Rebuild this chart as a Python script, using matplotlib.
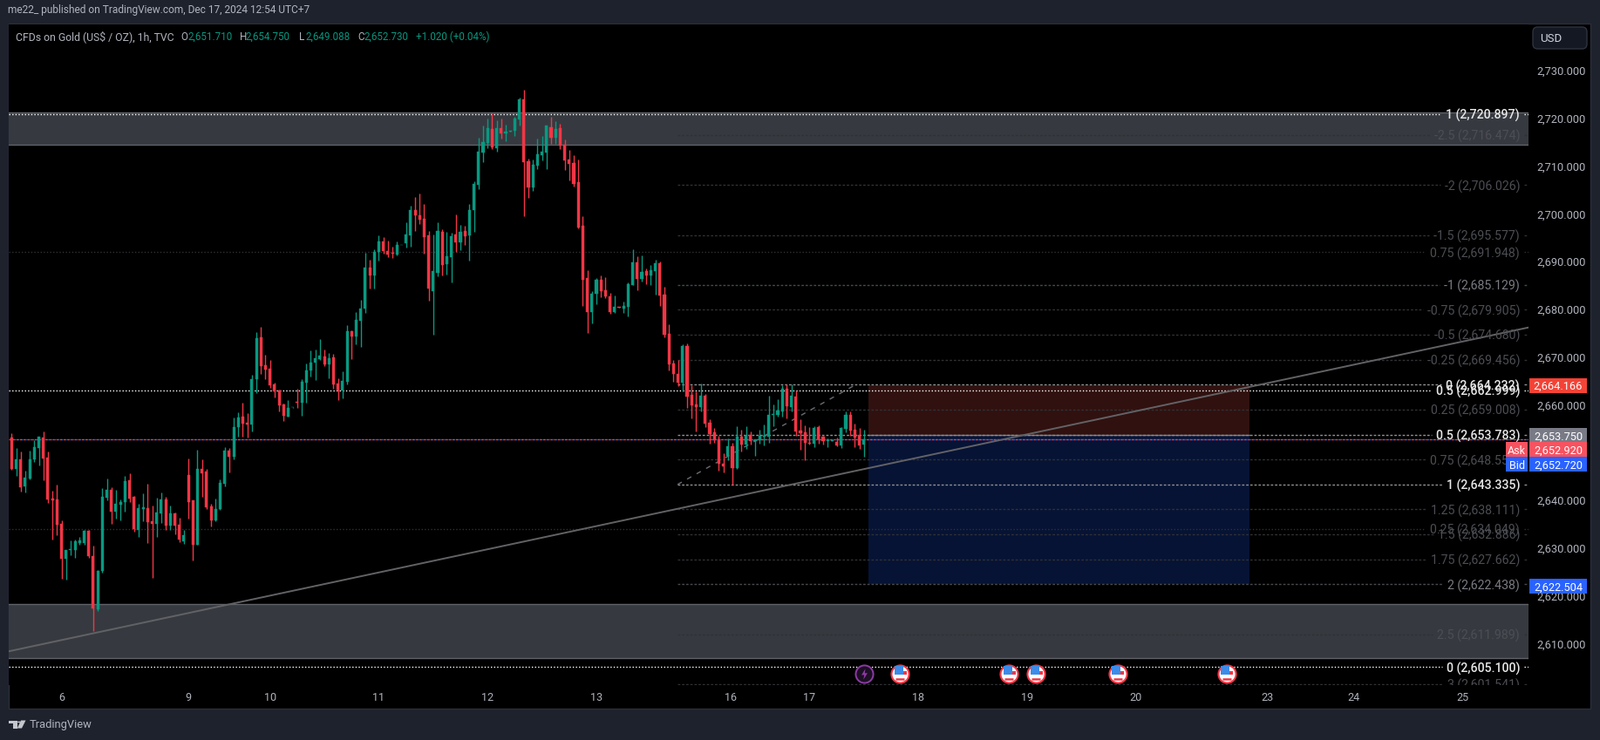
import matplotlib
matplotlib.use('Agg')
import matplotlib.pyplot as plt
from matplotlib.patches import Rectangle, FancyBboxPatch, Polygon, Circle
from matplotlib.path import Path

# one hourly candle per entry
opens = [
    2653.2, 2646.6, 2648.6, 2642.9, 2644.6, 2648.6, 2651.0, 2653.2, 2649.0, 2640.4,
    2640.2, 2635.1, 2627.8, 2629.6, 2629.6, 2631.1, 2631.1, 2633.6, 2628.3, 2617.2,
    2625.2, 2640.6, 2642.2, 2637.6, 2639.1, 2639.7, 2644.2, 2640.8, 2633.8, 2638.2,
    2638.4, 2635.6, 2635.1, 2637.3, 2640.2, 2634.7, 2637.3, 2634.9, 2631.4, 2645.3,
    2640.0, 2630.7, 2646.6, 2646.0, 2638.7, 2635.8, 2638.2, 2643.5, 2650.4, 2649.1,
    2655.3, 2657.5, 2656.3, 2655.9, 2665.4, 2674.1, 2668.3, 2667.6, 2664.3, 2663.0,
    2660.1, 2657.5, 2659.45, 2660.6, 2660.5, 2664.7, 2667.2, 2668.9, 2669.6, 2670.1,
    2668.5, 2670.0, 2664.5, 2663.0, 2664.8, 2675.4, 2674.3, 2677.6, 2680.2, 2688.7,
    2687.1, 2692.0, 2694.2, 2692.2, 2691.85, 2691.5, 2693.4, 2693.9, 2695.5, 2700.8,
    2699.7, 2699.0, 2695.5, 2683.8, 2687.7, 2696.2, 2689.5, 2690.9, 2695.7, 2694.0,
    2696.4, 2695.5, 2700.8, 2706.1, 2712.8, 2714.8, 2717.8, 2713.7, 2717.9, 2716.8,
    2717.25, 2717.4, 2719.8, 2724.0, 2711.0, 2705.5, 2710.1, 2712.3, 2712.8, 2718.1,
    2715.9, 2717.9, 2714.5, 2711.4, 2710.6, 2706.6, 2697.5, 2686.6, 2679.4, 2683.3,
    2686.2, 2684.0, 2682.7, 2679.4, 2680.5, 2680.2, 2680.5, 2685.1, 2689.8, 2686.4,
    2688.0, 2687.1, 2688.0, 2689.7, 2683.1, 2674.9, 2668.7, 2666.5, 2664.7, 2672.3,
    2662.1, 2660.1, 2659.5, 2661.9, 2656.3, 2654.2, 2652.8, 2647.7, 2649.3, 2651.3,
    2646.8, 2653.3, 2651.7, 2653.7, 2652.4, 2652.6, 2653.4, 2653.3, 2657.9, 2657.9,
    2658.6, 2663.4, 2659.5, 2661.7, 2654.6, 2654.2, 2652.1, 2651.9, 2655.3, 2653.3,
    2652.5, 2652.5, 2652.2, 2651.5, 2655.0, 2657.9, 2654.8, 2653.7, 2651.71,
]
closes = [
    2646.6, 2648.6, 2642.8, 2644.8, 2648.6, 2651.2, 2653.3, 2648.8, 2640.2, 2640.0,
    2634.9, 2627.8, 2629.6, 2629.8, 2631.4, 2631.6, 2633.6, 2628.3, 2617.4, 2625.2,
    2640.8, 2642.2, 2637.6, 2639.3, 2639.7, 2644.0, 2640.4, 2634.0, 2638.4, 2638.6,
    2635.5, 2635.1, 2637.5, 2640.2, 2634.7, 2637.3, 2634.7, 2631.8, 2632.7, 2639.7,
    2630.7, 2646.6, 2645.7, 2638.6, 2635.8, 2638.2, 2643.7, 2650.4, 2649.1, 2655.3,
    2657.4, 2656.1, 2655.9, 2665.4, 2674.0, 2668.1, 2667.4, 2664.1, 2662.8, 2659.9,
    2657.7, 2659.4, 2659.55, 2660.5, 2664.8, 2667.2, 2668.9, 2669.8, 2670.3, 2668.5,
    2669.8, 2664.3, 2663.0, 2665.0, 2675.4, 2674.3, 2677.8, 2680.2, 2688.7, 2687.1,
    2692.0, 2694.2, 2692.2, 2691.5, 2691.7, 2693.5, 2693.5, 2695.7, 2700.8, 2699.7,
    2698.8, 2695.1, 2684.4, 2688.0, 2696.4, 2689.3, 2691.1, 2695.3, 2694.0, 2696.2,
    2695.3, 2700.8, 2706.3, 2713.0, 2715.0, 2717.9, 2713.9, 2717.9, 2716.8, 2717.2,
    2717.35, 2719.9, 2724.0, 2710.8, 2705.5, 2710.3, 2712.5, 2713.0, 2718.5, 2715.9,
    2717.8, 2714.3, 2711.2, 2710.5, 2706.3, 2697.1, 2686.2, 2679.4, 2683.3, 2686.2,
    2683.8, 2682.7, 2679.4, 2680.5, 2680.4, 2680.7, 2685.3, 2689.8, 2686.4, 2687.8,
    2687.1, 2688.2, 2689.7, 2682.9, 2674.7, 2668.5, 2666.5, 2664.7, 2672.3, 2661.7,
    2659.9, 2659.5, 2661.9, 2656.1, 2653.9, 2652.6, 2647.7, 2647.1, 2651.3, 2646.8,
    2653.3, 2651.7, 2653.5, 2652.4, 2652.6, 2653.5, 2653.5, 2657.9, 2658.1, 2658.8,
    2663.4, 2659.7, 2661.9, 2654.4, 2654.1, 2652.1, 2651.9, 2655.2, 2652.8, 2652.4,
    2652.6, 2652.6, 2651.5, 2655.2, 2657.9, 2654.6, 2653.2, 2651.5, 2652.73,
]
highs = [
    2654.1, 2651.0, 2650.2, 2646.2, 2650.4, 2652.6, 2653.3, 2654.4, 2650.2, 2642.0,
    2643.3, 2635.8, 2629.6, 2631.6, 2631.8, 2632.4, 2633.8, 2633.8, 2630.5, 2625.4,
    2642.6, 2644.6, 2642.8, 2642.2, 2640.2, 2645.1, 2645.7, 2640.9, 2639.3, 2641.5,
    2643.5, 2638.9, 2640.6, 2641.7, 2640.8, 2638.9, 2637.5, 2636.4, 2633.8, 2648.8,
    2640.0, 2650.6, 2648.6, 2646.6, 2639.3, 2640.4, 2644.4, 2651.2, 2651.0, 2657.4,
    2658.5, 2660.5, 2658.3, 2666.3, 2675.2, 2676.3, 2670.5, 2669.4, 2664.7, 2663.2,
    2660.3, 2661.0, 2659.55, 2663.4, 2665.4, 2668.7, 2671.4, 2671.6, 2673.8, 2671.6,
    2670.9, 2670.7, 2665.6, 2667.0, 2676.7, 2675.6, 2679.4, 2682.0, 2691.8, 2690.4,
    2692.6, 2695.5, 2695.1, 2694.4, 2693.1, 2694.2, 2693.5, 2698.2, 2701.7, 2703.5,
    2704.3, 2702.1, 2696.4, 2695.7, 2698.2, 2696.8, 2696.2, 2696.0, 2699.9, 2697.7,
    2697.5, 2702.1, 2706.8, 2715.9, 2718.5, 2719.9, 2721.0, 2719.6, 2719.9, 2718.7,
    2717.35, 2720.3, 2724.3, 2726.0, 2711.6, 2711.4, 2715.8, 2716.3, 2718.5, 2720.3,
    2719.4, 2718.9, 2715.6, 2713.4, 2712.3, 2711.4, 2699.5, 2688.2, 2683.8, 2686.6,
    2687.1, 2686.7, 2683.5, 2682.9, 2680.5, 2681.6, 2685.6, 2692.6, 2691.1, 2691.3,
    2688.6, 2689.3, 2690.4, 2690.0, 2684.7, 2676.9, 2669.4, 2669.4, 2672.7, 2672.9,
    2664.1, 2662.8, 2664.5, 2662.3, 2657.0, 2655.2, 2653.5, 2649.9, 2653.0, 2652.1,
    2655.5, 2654.8, 2655.5, 2654.4, 2652.8, 2654.8, 2655.9, 2661.9, 2660.1, 2661.2,
    2664.1, 2664.3, 2664.3, 2663.0, 2657.0, 2655.7, 2655.3, 2655.5, 2655.7, 2653.5,
    2653.0, 2652.6, 2653.2, 2655.3, 2658.6, 2658.6, 2656.1, 2655.2, 2654.75,
]
lows = [
    2646.4, 2645.1, 2641.8, 2641.7, 2644.4, 2648.0, 2647.3, 2644.2, 2639.5, 2631.8,
    2632.7, 2623.6, 2623.4, 2628.5, 2628.0, 2630.8, 2630.7, 2628.0, 2612.6, 2616.8,
    2624.9, 2640.0, 2635.1, 2636.2, 2635.8, 2637.6, 2639.7, 2633.4, 2632.4, 2635.6,
    2631.1, 2623.8, 2632.4, 2635.3, 2633.9, 2633.9, 2632.9, 2631.3, 2630.9, 2636.2,
    2627.4, 2630.7, 2640.8, 2638.2, 2634.5, 2635.6, 2638.0, 2642.9, 2645.9, 2648.6,
    2653.3, 2653.3, 2653.2, 2654.4, 2662.5, 2666.5, 2665.4, 2663.6, 2661.6, 2658.6,
    2656.6, 2657.5, 2659.4, 2659.4, 2657.7, 2660.5, 2665.9, 2665.2, 2669.4, 2668.1,
    2665.6, 2663.4, 2661.0, 2661.4, 2664.3, 2669.6, 2672.7, 2672.1, 2679.3, 2684.4,
    2684.4, 2690.2, 2691.7, 2690.9, 2690.8, 2691.3, 2693.4, 2692.9, 2693.1, 2696.4,
    2697.9, 2691.7, 2681.8, 2674.7, 2686.9, 2687.1, 2687.3, 2685.6, 2692.0, 2692.4,
    2693.5, 2690.2, 2696.2, 2705.2, 2710.8, 2713.7, 2713.6, 2713.0, 2715.8, 2715.2,
    2717.25, 2716.3, 2718.5, 2699.5, 2703.3, 2704.8, 2709.4, 2711.2, 2709.4, 2714.7,
    2714.7, 2713.6, 2709.2, 2707.0, 2705.7, 2697.0, 2680.7, 2675.1, 2677.1, 2681.1,
    2682.5, 2682.4, 2679.1, 2679.3, 2680.4, 2679.3, 2678.5, 2685.1, 2684.0, 2685.8,
    2685.3, 2685.1, 2683.1, 2680.7, 2674.1, 2667.2, 2664.8, 2663.9, 2662.8, 2659.4,
    2657.2, 2654.4, 2658.6, 2655.3, 2651.9, 2652.1, 2646.2, 2645.9, 2648.4, 2643.3,
    2646.6, 2650.2, 2650.8, 2651.7, 2649.3, 2651.9, 2651.5, 2652.1, 2655.5, 2657.5,
    2657.5, 2657.2, 2658.6, 2653.5, 2650.6, 2648.4, 2651.7, 2651.2, 2651.9, 2651.7,
    2651.2, 2652.5, 2651.3, 2651.0, 2654.2, 2653.5, 2651.2, 2650.8, 2649.088,
]

price_ticks = [2610, 2620, 2630, 2640, 2650, 2660, 2670, 2680, 2690, 2700, 2710, 2720, 2730]
day_labels = ["6", "9", "10", "11", "12", "13", "16", "17", "18", "19", "20", "23", "24", "25"]
day_bars = [11, 39, 57, 81, 105, 129, 158.6, 176, 200, 224, 248, 277, 296, 320]

# supply / demand zones (low, high)
zone_top = (2714.4, 2721.15)
zone_bottom = (2606.95, 2618.25)

# fib retracement anchored far left
fib_a_levels = ["1", "0.75", "0.5", "0.25", "0"]
fib_a_prices = [2720.897, 2691.948, 2662.999, 2634.049, 2605.100]
fib_a_major = [True, False, True, False, True]

# fib retracement starting at the Dec 13 swing
fib_b_levels = ["-2.5", "-2", "-1.5", "-1", "-0.75", "-0.5", "-0.25", "0", "0.25", "0.5",
                "0.75", "1", "1.25", "1.5", "1.75", "2", "2.5", "3"]
fib_b_prices = [2716.474, 2706.026, 2695.577, 2685.129, 2679.905, 2674.680, 2669.456,
                2664.232, 2659.008, 2653.783, 2648.559, 2643.335, 2638.111, 2632.886,
                2627.662, 2622.438, 2611.989, 2601.541]
fib_b_style = ["dim", "dim", "dim", "mid", "dim", "dim", "dim", "major", "dim", "major",
               "dim", "major", "dim", "dim", "dim", "mid", "dim", "dim"]
fib_b_start = 146.9

# short position tool
pos_bars = (189, 273)
pos_stop, pos_entry, pos_target = 2664.166, 2653.75, 2622.504

# long trendline and fib diagonal
trend_bars = [-0.64, 334.6]
trend_prices = [2608.4, 2676.2]
diag_bars = [146.9, 186.2]
diag_prices = [2643.335, 2664.232]

last_ask, last_bid = 2652.92, 2652.72

event_flag_bars = [196, 220, 226, 244, 268]
event_bolt_bar = 188
event_price = 2603.7

# tag text, y position on the axis, colour
tag_texts = ["2,664.166", "2,653.750", "2,652.920", "2,652.720", "2,622.504"]
tag_prices = [2664.1, 2653.65, 2650.6, 2647.55, 2622.0]
tag_colors = ["#f44336", "#787b86", "#f7525f", "#2962ff", "#2962ff"]

plt.rcParams["font.family"] = "Roboto"

W, H = 1835, 849
BG = "#1e222d"
UP, DOWN = "#089981", "#f23645"
GREY = "#b2b5be"


def fx(x): return x / W
def fy(y): return 1 - y / H


fig = plt.figure(figsize=(W / 100, H / 100), dpi=100, facecolor=BG)

# black chart panel behind the axes
fig.add_artist(Rectangle((fx(10), fy(813)), 1814 / W, 786 / H, transform=fig.transFigure,
                         facecolor="black", edgecolor="#2a2e39", lw=1, zorder=-1))

L, R, T, B = 10, 1753, 28, 786
ax = fig.add_axes([fx(L), fy(B), (R - L) / W, (B - T) / H], facecolor="black")
ax.set_xlim(-0.64, 334.6)
ax.set_ylim(2601.33, 2739.65)
for s in ax.spines.values():
    s.set_visible(False)

ax.yaxis.tick_right()
ax.set_yticks(price_ticks)
ax.set_yticklabels([f"{p:,.3f}" for p in price_ticks], fontsize=9.2, va="center_baseline")
ax.set_xticks(day_bars)
ax.set_xticklabels(day_labels, fontsize=9)
ax.tick_params(axis="y", length=0, pad=6.5, colors=GREY)
ax.tick_params(axis="x", length=0, pad=6, colors=GREY)

# --- zones ---
for lo, hi in (zone_top, zone_bottom):
    ax.axhspan(lo, hi, facecolor="#363a40", edgecolor="none", zorder=1)
    ax.axhline(lo, color="#5f6268", lw=1, zorder=1.1)
    ax.axhline(hi, color="#5f6268", lw=1, zorder=1.1)

# --- position tool ---
ax.add_patch(Rectangle((pos_bars[0], pos_entry), pos_bars[1] - pos_bars[0], pos_stop - pos_entry,
                       facecolor="#30110f", edgecolor="none", zorder=1.5))
ax.add_patch(Rectangle((pos_bars[0], pos_target), pos_bars[1] - pos_bars[0], pos_entry - pos_target,
                       facecolor="#061335", edgecolor="none", zorder=1.5))
ax.plot(pos_bars, [pos_entry, pos_entry], color="#77797f", lw=1, zorder=1.6)

# --- fib levels: line stops short of its label, then a small stub to the edge ---
renderer = fig.canvas.get_renderer()
to_data = ax.transData.inverted()
LABEL_X = (1743 - L) / (R - L)
label_colors = {"major": "#e8e8e8", "mid": "#7b7d84", "dim": "#4c4e54"}
line_colors = {"major": "#909090", "mid": "#47494e", "dim": "#2f3134"}


def fib_level(level, price, start, style, dash, white=False):
    txt = ax.text(LABEL_X, price, f"{level} ({price:,.3f})", transform=ax.get_yaxis_transform(),
                  ha="right", va="center_baseline", fontsize=10.2, color=label_colors[style],
                  clip_on=True, zorder=6, fontweight="medium" if style == "major" else "normal")
    box = txt.get_window_extent(renderer)
    stop = to_data.transform((box.x0 - 5, 0))[0]
    stub = to_data.transform((box.x1 + 5, 0))[0]
    col = "white" if white else line_colors[style]
    ax.plot([start, stop], [price, price], color=col, lw=1, ls=dash, zorder=2)
    ax.plot([stub, 334.6], [price, price], color=col, lw=1, ls=dash, zorder=2)


for level, price, major in zip(fib_a_levels, fib_a_prices, fib_a_major):
    fib_level(level, price, -0.64, "major" if major else "dim", (0, (1, 1.6)), white=major)
for level, price, style in zip(fib_b_levels, fib_b_prices, fib_b_style):
    fib_level(level, price, fib_b_start, style, (0, (2, 1.4)))

ax.plot(diag_bars, diag_prices, color="#6a6d73", lw=1, ls=(0, (4, 5)), zorder=2)

# --- last price lines: blue dots underneath, red on top ---
ax.axhline(last_bid, color="#2962ff", lw=1, ls=(1.5, (1, 2)), zorder=3)
ax.axhline(last_ask - 0.2, color="#f7404f", lw=1, ls=(0, (1.5, 1.5)), zorder=3.1)

# --- candles ---
bars = range(len(opens))
colors = [UP if c >= o else DOWN for o, c in zip(opens, closes)]
ax.vlines(bars, lows, highs, colors=colors, lw=1, zorder=4)
ax.bar(bars, [abs(c - o) for o, c in zip(opens, closes)], bottom=[min(o, c) for o, c in zip(opens, closes)],
       width=0.6, color=colors, edgecolor=colors, lw=0.3, zorder=4.5)

# --- trendline ---
ax.plot(trend_bars, trend_prices, color="#626266", lw=1.4, zorder=5)

# --- events on the time scale ---
bolt = Path([(0.15, 1), (-0.55, -0.15), (-0.05, -0.15), (-0.2, -1), (0.55, 0.2), (0.05, 0.2), (0.15, 1)])
ax.scatter([event_bolt_bar], [event_price], s=210, facecolor="#1c1024", edgecolor="#8e3aa5", lw=1.4, zorder=7)
ax.scatter([event_bolt_bar], [event_price], s=80, marker=bolt, color="#8e3aa5", lw=0, zorder=7.1)
flag_y = [event_price] * len(event_flag_bars)
ax.scatter(event_flag_bars, flag_y, s=210, facecolor="white", edgecolor="#f23645", lw=1.5, zorder=7)
ax.scatter(event_flag_bars, [event_price - 1.1] * 5, s=60, marker="_", color="#f23645", lw=1.8, zorder=7.1)
ax.scatter([b + 1.05 for b in event_flag_bars], [event_price + 0.2] * 5, s=8, marker="s", color="#f23645", lw=0, zorder=7.1)
ax.scatter([b - 0.3 for b in event_flag_bars], [event_price + 0.65] * 5, s=42, marker="s", color="#3d8be8", lw=0, zorder=7.2)

# --- price tags ---
yt = ax.get_yaxis_transform()
tag_h = 17 / 5.48
tag_x0 = (1754 - L) / (R - L)
tag_w = 66 / (R - L)
for text, price, col in zip(tag_texts, tag_prices, tag_colors):
    ax.add_patch(Rectangle((tag_x0, price - tag_h / 2), tag_w, tag_h, transform=yt, facecolor=col,
                           edgecolor="none", clip_on=False, zorder=8))
    ax.text(tag_x0 + tag_w / 2, price, text, transform=yt, color="white", fontsize=9.2,
            ha="center", va="center_baseline", clip_on=False, zorder=9)
side_x0 = (1727 - L) / (R - L)
side_w = 25 / (R - L)
for text, price, col in (("Ask", tag_prices[2], tag_colors[2]), ("Bid", tag_prices[3], tag_colors[3])):
    ax.add_patch(Rectangle((side_x0, price - tag_h / 2), side_w, tag_h, transform=yt, facecolor=col,
                           edgecolor="none", clip_on=False, zorder=8))
    ax.text(side_x0 + side_w / 2, price, text, transform=yt, color="white", fontsize=9,
            ha="center", va="center_baseline", clip_on=False, zorder=9)

# --- header, legend, footer ---
fig.text(fx(9), fy(11.5), "me22_ published on TradingView.com, Dec 17, 2024 12:54 UTC+7",
         color=GREY, fontsize=8.6, va="center")
fig.text(fx(18), fy(42), "CFDs on Gold (US$ / OZ), 1h, TVC", color=GREY, fontsize=8.8, va="center")
for x, s, col in ((207, "O", GREY), (215, "2,651.710", UP), (275, "H", GREY), (282, "2,654.750", UP),
                  (343, "L", GREY), (350, "2,649.088", UP), (410, "C", GREY), (417, "2,652.730", UP),
                  (476.5, "+1.020 (+0.04%)", UP)):
    fig.text(fx(x), fy(42), s, color=col, fontsize=8.4, va="center")

fig.add_artist(FancyBboxPatch((fx(1758), fy(56)), 62 / W, 25 / H, transform=fig.transFigure,
                              boxstyle="round,pad=0,rounding_size=0.003", mutation_aspect=2.16,
                              facecolor="#141823", edgecolor="#2f333e", lw=1, zorder=3))
fig.text(fx(1766), fy(44), "USD", color="#d1d4dc", fontsize=9.5, va="center", zorder=4)

logo = "#c4c6cc"
for pts in ([(10, 826.5), (19.5, 826.5), (19.5, 835.5), (14.5, 835.5), (14.5, 830), (10, 830)],
            [(24, 826.5), (29.5, 826.5), (25, 835.5), (19.8, 835.5)]):
    fig.add_artist(Polygon([(fx(x), fy(y)) for x, y in pts], closed=True, transform=fig.transFigure,
                           facecolor=logo, edgecolor="none", zorder=3))
fig.add_artist(Circle((fx(21.8), fy(828.4)), 1.8 / W, transform=fig.transFigure, facecolor=logo,
                      edgecolor="none", zorder=3))
fig.text(fx(34), fy(831), "TradingView", color=GREY, fontsize=9.3, va="center")

fig.savefig("out.png", dpi=100, facecolor=BG)
